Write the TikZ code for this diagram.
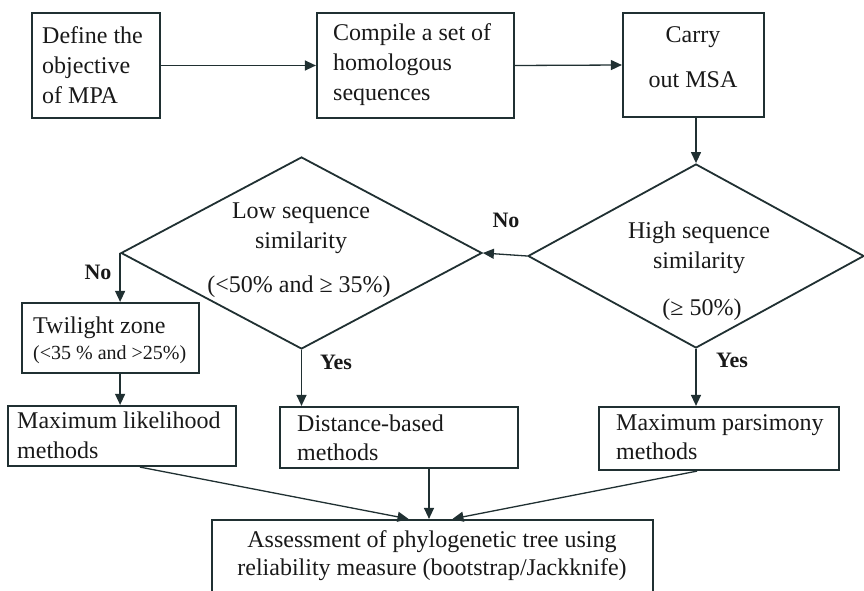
\documentclass[tikz,border=0pt]{standalone}
\usepackage{fontspec}
\setmainfont{Liberation Serif}
\usetikzlibrary{arrows.meta,shapes.geometric,calc}
\definecolor{edge}{RGB}{32,48,50}
\definecolor{ink}{RGB}{25,25,25}
\begin{document}
\begin{tikzpicture}[x=1pt,y=-1pt,
  box/.style={draw=edge,line width=2.2pt,rectangle,inner sep=0pt},
  dia/.style={draw=edge,line width=1.8pt,diamond,inner sep=0pt},
  txt/.style={text=ink,inner sep=0pt,font=\fontsize{24}{30}\selectfont},
  lbl/.style={text=ink,inner sep=0pt,font=\fontsize{22}{26}\selectfont\bfseries},
  conn/.style={draw=edge,line width=1.3pt,-{Triangle[length=11pt,width=10pt]}}]
\useasboundingbox (0,0) rectangle (864,591);
\clip (0,0) rectangle (864,591);
\fill[white] (0,0) rectangle (864,591);
% boxes
\node[box,minimum width=128pt,minimum height=105pt] (b1) at (96,65.5) {};
\node[box,minimum width=197pt,minimum height=105pt] (b2) at (415.5,65.5) {};
\node[box,minimum width=141pt,minimum height=104pt] (b3) at (693.5,65) {};
\node[dia,minimum width=361pt,minimum height=192pt] (d1) at (301.5,253) {};
\node[dia,minimum width=336pt,minimum height=184pt] (d2) at (696,256) {};
\node[box,minimum width=177pt,minimum height=70pt] (tw) at (110.5,338) {};
\node[box,minimum width=228pt,minimum height=60pt] (ml) at (122,436) {};
\node[box,minimum width=238pt,minimum height=61pt] (dist) at (399,437.5) {};
\node[box,minimum width=240pt,minimum height=63pt] (pars) at (719,438.5) {};
\node[box,minimum width=441pt,minimum height=80pt] (as) at (432.5,560) {};
% texts
\node[txt,anchor=west,align=left] (t1) at (42,65) {Define the\\objective\\of MPA};
\node[txt,anchor=west,align=left] (t2) at (333,65) {Compile a set of\\homologous\\sequences};
\node[txt,align=center,font=\fontsize{24}{45}\selectfont] (t3) at (693,57.5) {Carry\\out MSA};
\node[txt,align=center] (t4) at (301,228) {Low sequence\\similarity};
\node[txt] (t5) at (299,287) {(<50\% and ≥ 35\%)};
\node[txt,align=center] (t6) at (699,248) {High sequence\\similarity};
\node[txt] (t7) at (702,310) {(≥ 50\%)};
\node[txt,anchor=west] (t8) at (33,328) {Twilight zone};
\node[txt,anchor=west,font=\fontsize{20}{24}\selectfont] (t9) at (33,355) {(<35 \% and >25\%)};
\node[txt,anchor=west,align=left] (t10) at (17,435) {Maximum likelihood\\methods};
\node[txt,anchor=west,align=left,font=\fontsize{24}{29}\selectfont] (t11) at (297,437.5) {Distance-based\\methods};
\node[txt,anchor=west,align=left,font=\fontsize{24}{29}\selectfont] (t12) at (616,437.5) {Maximum parsimony\\methods};
\node[txt,align=center,font=\fontsize{24}{28}\selectfont] (t13) at (432,556) {Assessment of phylogenetic tree using\\reliability measure (bootstrap/Jackknife)};
% labels
\node[lbl] (no1) at (506,220) {No};
\node[lbl] (no2) at (98,272) {No};
\node[lbl] (yes1) at (336,362) {Yes};
\node[lbl] (yes2) at (732,360) {Yes};
% connectors
\draw[conn] (b1.east) -- (b2.west);
\draw[conn] (b2.east) -- (b3.west);
\draw[conn] (d2.north |- b3.south) -- (d2.north);
\draw[conn] (d2.west) -- (d1.east);
\draw[conn] (d1.west) -- (d1.west |- tw.north);
\draw[conn] (d1.west |- tw.south) -- (d1.west |- ml.north);
\draw[conn] (d1.south) -- (d1.south |- dist.north);
\draw[conn] (d2.south) -- (d2.south |- pars.north);
\draw[conn] ([xshift=18pt]ml.south) -- ([xshift=-24pt]as.north);
\draw[conn] ([xshift=30pt]dist.south) -- ([xshift=-3.5pt]as.north);
\draw[conn] ([xshift=-22pt]pars.south) -- ([xshift=20pt]as.north);
\end{tikzpicture}
\end{document}
